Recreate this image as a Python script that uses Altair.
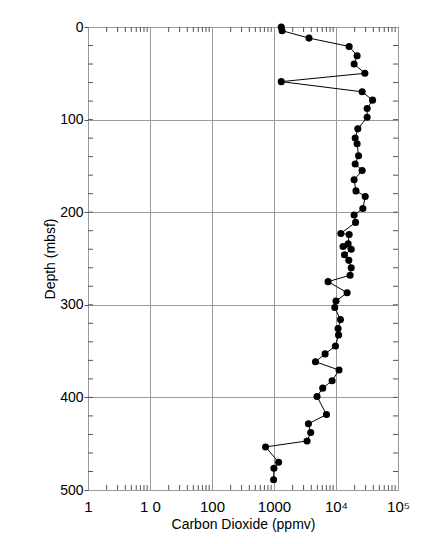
import altair as alt
import pandas as pd

depth = [0, 4, 12, 21, 31, 40, 50, 59, 70, 79, 88, 97.5, 110, 120, 126, 139, 148, 155, 165,
         177, 183, 196, 203, 211, 223, 224, 234, 237, 240, 246, 252, 260, 268, 275, 287,
         296, 303, 316, 325.5, 332.5, 344.5, 353, 361.5, 370.5, 382, 390, 399, 418.5,
         428.5, 438, 447, 453.5, 470, 476.5, 489]
co2 = [1310, 1350, 3670, 16300, 21900, 19600, 29200, 1310, 26400, 38900, 31800, 31800, 22500,
       20400, 21900, 23100, 20400, 26400, 19600, 21000, 29600, 27100, 19600, 20700, 11970,
       16300, 15700, 13000, 17600, 13700, 16100, 17600, 16900, 7450, 15100, 10000, 9550,
       11800, 10800, 11000, 9800, 6670, 4660, 11200, 8650, 6110, 4940, 7020, 3590, 3910,
       3410, 731, 1186, 996, 985]

x_major = [1, 10, 100, 1000, 10000, 100000]
x_labels = ["1", "1 0", "100", "1000", "10\u2074", "10\u2075"]
x_minor = [m * 10 ** k for k in range(5) for m in range(2, 10)]
y_major = [0, 100, 200, 300, 400, 500]
y_minor = [d for d in range(20, 500, 20)]

W, H = 310, 463
df = pd.DataFrame({"depth": depth, "co2": co2, "i": range(len(depth))})
xmin = pd.DataFrame({"v": x_minor})
ymin = pd.DataFrame({"v": y_minor})

label_expr = "{" + ",".join(f"'{v}':'{l}'" for v, l in zip(x_major, x_labels)) + "}[datum.value]"

xscale = alt.Scale(type="log", domain=[1, 100000], nice=False)
yscale = alt.Scale(domain=[0, 500], reverse=True, nice=False)

font = "Liberation Sans"

base = alt.Chart(df)
line = base.mark_line(color="black", strokeWidth=1).encode(
    x=alt.X("co2:Q", scale=xscale,
            axis=alt.Axis(values=x_major, labelExpr=label_expr, title="Carbon Dioxide (ppmv)",
                          grid=True, gridColor="#9a9a9a", ticks=False, domain=False,
                          labelFontSize=15, titleFontSize=14, labelFont=font, titleFont=font,
                          labelColor="black", titleColor="black", titleFontWeight="normal",
                          labelPadding=9, titlePadding=3, labelFlush=False)),
    y=alt.Y("depth:Q", scale=yscale,
            axis=alt.Axis(values=y_major, title="Depth (mbsf)", grid=True, gridColor="#9a9a9a",
                          tickSize=4, tickColor="#555", domain=False,
                          labelFontSize=14, titleFontSize=14, labelFont=font, titleFont=font,
                          labelColor="black", titleColor="black", titleFontWeight="normal",
                          labelPadding=1, titlePadding=2)),
    order="i:Q",
)
pts = base.mark_circle(color="black", opacity=1, size=50).encode(
    x=alt.X("co2:Q", scale=xscale), y=alt.Y("depth:Q", scale=yscale))

tick_color = "#555"
top_ticks = alt.Chart(xmin).mark_rule(color=tick_color, strokeWidth=1).encode(
    x=alt.X("v:Q", scale=xscale), y=alt.value(0), y2=alt.value(5))
bot_ticks = alt.Chart(xmin).mark_rule(color=tick_color, strokeWidth=1).encode(
    x=alt.X("v:Q", scale=xscale), y=alt.value(H), y2=alt.value(H - 5))
left_ticks = alt.Chart(ymin).mark_rule(color=tick_color, strokeWidth=1).encode(
    y=alt.Y("v:Q", scale=yscale), x=alt.value(0), x2=alt.value(5))
right_ticks = alt.Chart(ymin).mark_rule(color=tick_color, strokeWidth=1).encode(
    y=alt.Y("v:Q", scale=yscale), x=alt.value(W), x2=alt.value(W - 5))

chart = alt.layer(top_ticks, bot_ticks, left_ticks, right_ticks, line, pts).properties(
    width=W, height=H,
    autosize=alt.AutoSizeParams(type="none"),
    padding={"left": 80, "top": 19, "right": 30, "bottom": 52},
    background="white",
).configure_view(stroke="#555", strokeWidth=1)

chart.save("out.html", embed_options={"renderer": "svg", "actions": False})
